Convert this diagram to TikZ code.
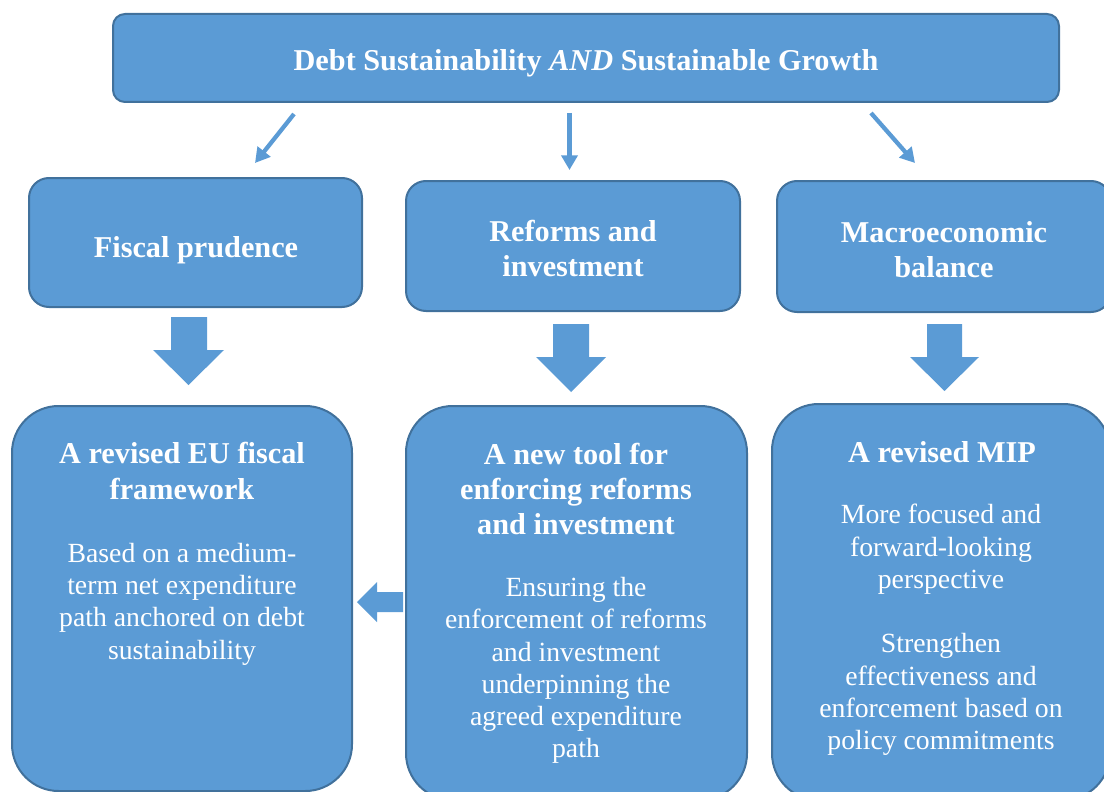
\documentclass[tikz,border=0pt]{standalone}
\usepackage{fontspec}
\setmainfont{Liberation Serif}
\usetikzlibrary{arrows.meta}
\definecolor{boxfill}{HTML}{5B9BD5}
\definecolor{boxline}{HTML}{41719C}
\tikzset{
  box/.style={draw=boxline, line width=1.5pt, fill=boxfill, inner sep=0pt},
  head/.style={text=white, font=\fontsize{22.7}{26.6}\selectfont\bfseries, align=center, inner sep=0pt},
  body/.style={text=white, font=\fontsize{20.8}{24.2}\selectfont, align=center, inner sep=0pt},
  thin/.style={draw=boxfill, line width=3.2pt, -{Triangle[length=11pt,width=12pt]}},
  block/.style={fill=boxfill},
}
\begin{document}
\begin{tikzpicture}[x=0.75pt,y=-0.75pt]
\useasboundingbox (0,0) rectangle (1104,792);
% boxes
\node[box, rounded corners=9pt, minimum width=709.5pt, minimum height=66pt] (top) at (586,58) {};
\node[box, rounded corners=15pt, minimum width=249.75pt, minimum height=96.75pt] (fiscal) at (195.5,242.5) {};
\node[box, rounded corners=15pt, minimum width=250.5pt, minimum height=97.5pt] (reforms) at (573,246) {};
\node[box, rounded corners=15pt, minimum width=250.5pt, minimum height=98.25pt] (macro) at (944,246.5) {};
\node[box, rounded corners=35pt, minimum width=255pt, minimum height=288.75pt] (bl) at (182,598.5) {};
\node[box, rounded corners=35pt, minimum width=255.75pt, minimum height=295.5pt] (bm) at (576.5,603) {};
\node[box, rounded corners=35pt, minimum width=253.5pt, minimum height=297pt] (br) at (941,602) {};
% texts
\node[head] (toptext) at (586,63) {Debt Sustainability \textit{AND} Sustainable Growth};
\node[head] (fiscaltext) at (196,250) {Fiscal prudence};
\node[head] (reformstext) at (573,248.5) {Reforms and\\investment};
\node[head] (macrotext) at (944,249.5) {Macroeconomic\\balance};
\node[head] (blhead) at (182,471) {A revised EU fiscal\\framework};
\node[body] (blbody) at (182,604) {Based on a medium-\\term net expenditure\\path anchored on debt\\sustainability};
\node[head] (bmhead) at (576,489) {A new tool for\\enforcing reforms\\and investment};
\node[body] (bmbody) at (576,670.5) {Ensuring the\\enforcement of reforms\\and investment\\underpinning the\\agreed expenditure\\path};
\node[head] (brhead) at (942,452.5) {A revised MIP};
\node[body] (brbody) at (941,630) {More focused and\\forward-looking\\perspective\\[24.2pt]Strengthen\\effectiveness and\\enforcement based on\\policy commitments};
% thin arrows
\coordinate (a1s) at (294,114); \coordinate (a1e) at (255,163);
\coordinate (a2s) at (569.5,113); \coordinate (a2e) at (569.5,170);
\coordinate (a3s) at (871,113); \coordinate (a3e) at (915,163);
\draw[thin] (a1s) -- (a1e);
\draw[thin] (a2s) -- (a2e);
\draw[thin] (a3s) -- (a3e);
% block arrows
\fill[block] (171,317) -- (207,317) -- (207,350) -- (224,350) -- (188.5,385) -- (153,350) -- (171,350) -- cycle;
\fill[block] (553,324) -- (589,324) -- (589,357) -- (606,357) -- (571,392) -- (536,357) -- (553,357) -- cycle;
\fill[block] (927,324) -- (962,324) -- (962,357) -- (979,357) -- (944.5,391) -- (910,357) -- (927,357) -- cycle;
\fill[block] (403,592) -- (377,592) -- (377,582) -- (357,602) -- (377,622) -- (377,612) -- (403,612) -- cycle;
\end{tikzpicture}
\end{document}
